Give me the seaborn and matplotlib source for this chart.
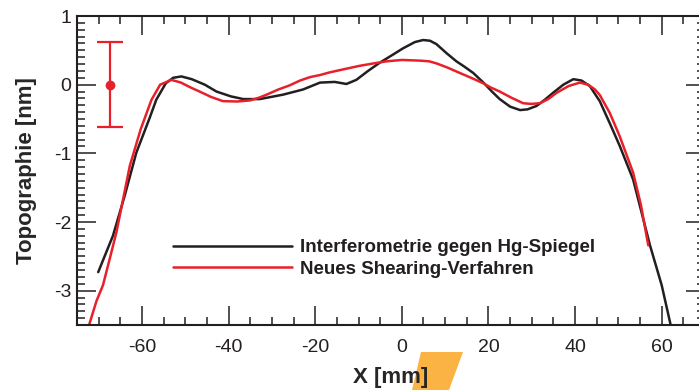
import numpy as np
import pandas as pd
import matplotlib
matplotlib.use("Agg")
import matplotlib.pyplot as plt
from matplotlib.patches import Polygon
from matplotlib.ticker import MultipleLocator
import seaborn as sns

# Interferometric reference profile (x in mm, height in nm)
interf_x = [-70.1, -68.5, -66.7, -64.0, -61.3, -58.2, -56.7, -54.5, -52.8, -50.9,
            -48.5, -45.5, -42.8, -39.5, -36.6, -32.8, -27.4, -22.8, -18.9, -15.5,
            -12.8, -10.5, -7.8, -5.1, -2.5, 0.3, 3.0, 4.9, 6.5, 8.0,
            10.3, 12.6, 14.5, 16.5, 19.0, 20.8, 22.6, 25.0, 27.3, 29.0,
            31.1, 33.0, 34.9, 37.3, 39.6, 41.5, 43.4, 45.7, 48.0, 50.3,
            53.4, 57.3, 60.0, 62.5]
interf_y = [-2.73, -2.48, -2.20, -1.62, -0.99, -0.48, -0.22, 0.02, 0.10, 0.12,
            0.08, 0.00, -0.10, -0.17, -0.21, -0.21, -0.145, -0.07, 0.03, 0.04,
            0.01, 0.07, 0.20, 0.32, 0.42, 0.53, 0.62, 0.65, 0.64, 0.59,
            0.46, 0.34, 0.26, 0.17, 0.02, -0.10, -0.21, -0.32, -0.37, -0.36,
            -0.31, -0.22, -0.12, 0.00, 0.08, 0.06, -0.02, -0.24, -0.56, -0.89,
            -1.38, -2.34, -2.92, -3.62]

# New shearing method profile
shear_x = [-72.8, -70.5, -69.0, -67.5, -65.9, -64.3, -62.8, -60.3, -57.8, -55.8,
           -53.2, -51.0, -48.8, -46.7, -44.0, -41.3, -38.0, -35.1, -33.0, -31.2,
           -28.5, -25.9, -23.5, -21.2, -18.9, -16.6, -13.0, -9.7, -6.5, -3.5,
           0.0, 4.2, 6.3, 8.0, 10.5, 13.4, 16.0, 18.8, 20.5, 22.6,
           25.3, 28.0, 29.8, 31.9, 33.8, 35.7, 38.5, 41.1, 43.0, 44.6,
           45.7, 48.0, 50.3, 53.4, 55.2, 56.9]
shear_y = [-3.62, -3.15, -2.92, -2.55, -2.15, -1.65, -1.18, -0.65, -0.22, 0.00,
           0.07, 0.03, -0.04, -0.10, -0.18, -0.24, -0.245, -0.23, -0.19, -0.145,
           -0.07, -0.01, 0.06, 0.11, 0.14, 0.18, 0.23, 0.275, 0.31, 0.34,
           0.36, 0.35, 0.34, 0.31, 0.25, 0.17, 0.10, 0.02, -0.04, -0.10,
           -0.19, -0.27, -0.28, -0.27, -0.21, -0.12, -0.02, 0.03, 0.00, -0.07,
           -0.15, -0.41, -0.75, -1.28, -1.75, -2.34]

series_names = ["Interferometrie gegen Hg-Spiegel", "Neues Shearing-Verfahren"]

# Measurement uncertainty marker
err_x = [-67.4]
err_y = [0.0]
err_size = [0.62]

BLACK = "#231f20"
RED = "#e8202a"

sns.set_theme(style="ticks")
plt.rcParams["font.family"] = ["Liberation Sans", "DejaVu Sans"]
plt.rcParams["axes.unicode_minus"] = False
plt.rcParams["axes.edgecolor"] = BLACK
plt.rcParams["xtick.color"] = BLACK
plt.rcParams["ytick.color"] = BLACK

df = pd.concat([
    pd.DataFrame({"x": interf_x, "y": interf_y, "Verfahren": series_names[0]}),
    pd.DataFrame({"x": shear_x, "y": shear_y, "Verfahren": series_names[1]}),
], ignore_index=True)

fig = plt.figure(figsize=(6.99, 3.90), dpi=100)
ax = fig.add_axes([77 / 699, 65 / 390, 628 / 699, 309 / 390])

sns.lineplot(data=df, x="x", y="y", hue="Verfahren", sort=False, estimator=None,
             palette=[BLACK, RED], linewidth=1.8, ax=ax, legend=True)

ax.errorbar(err_x, err_y, yerr=err_size, fmt="o", color=RED, markersize=6,
            elinewidth=1.6, capsize=9.5, capthick=1.6)

ax.set_xlim(-75, 70)
ax.set_ylim(-3.5, 1.0)
ax.xaxis.set_major_locator(MultipleLocator(20))
ax.xaxis.set_minor_locator(MultipleLocator(5))
ax.yaxis.set_major_locator(MultipleLocator(1))
ax.yaxis.set_minor_locator(MultipleLocator(0.1))
ax.tick_params(which="both", direction="in", top=True, right=True,
               labelsize=14, width=1.1)
ax.tick_params(axis="x", which="major", pad=10)
ax.tick_params(axis="y", which="major", pad=4)
ax.tick_params(which="major", length=13.5)
ax.tick_params(which="minor", length=6)
for s in ax.spines.values():
    s.set_linewidth(1.5)

ax.set_xlabel("X [mm]", fontsize=16, fontweight="bold", labelpad=8)
ax.set_ylabel("Topographie [nm]", fontsize=16, fontweight="bold", labelpad=12)

leg = ax.legend(loc="center left", bbox_to_anchor=(0.153, 0.215), frameon=False,
                fontsize=13.5, handlelength=6.35, handletextpad=0.43,
                labelspacing=0.25, borderpad=0, borderaxespad=0)
for t in leg.get_texts():
    t.set_fontweight("bold")
    t.set_color(BLACK)
for h in leg.get_lines():
    h.set_linewidth(1.8)

# Orange accent behind the x label
poly = Polygon([(421 / 699, 1 - 352 / 390), (463 / 699, 1 - 352 / 390),
                (449 / 699, 0.0), (412 / 699, 0.0)],
               closed=True, transform=fig.transFigure, facecolor="#fbb443",
               edgecolor="none", zorder=-1)
fig.patches.append(poly)

fig.savefig("out.png", dpi=100)
